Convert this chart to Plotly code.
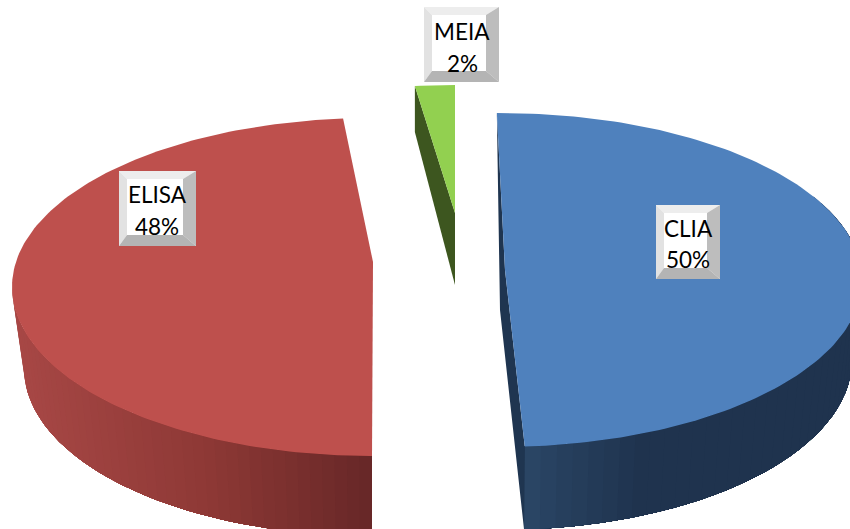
import numpy as np
import plotly.graph_objects as go

# --- data ---
categories = ["CLIA", "ELISA", "MEIA"]
percent_values = [50, 48, 2]

# --- styles and drawing geometry (pixel space of the chart) ---
W, H = 850, 529
top_colors = {"CLIA": "#4F81BD", "ELISA": "#BE504D", "MEIA": "#92D050"}
cut_colors = {"CLIA": "#1F3550", "MEIA": "#3D561F"}
# per-slice perspective: rim ellipse, apex, base ellipse, sweep correction
geom = {
    "CLIA": dict(start=-0.5, k=0.981, c=(500, 280), r=(362, 167), apex=(505, 270),
                 bc=(500, 360), br=(352, 170), apex_b=(500, 310)),
    "ELISA": dict(start=180, k=1.015, c=(372, 287), r=(360, 169), apex=(373, 262),
                  bc=(372, 368), br=(348, 168), apex_b=(373, 340)),
    "MEIA": dict(start=360, k=-0.889, c=(455, 252), r=(360, 167), apex=(455, 213),
                 bc=(455, 313), br=(360, 167), apex_b=(455, 285)),
}
wall_stops = {
    "CLIA": dict(a0=60, xs=[525, 650, 850], cols=[(44, 72, 104), (31, 51, 78), (31, 51, 78)]),
    "ELISA": dict(a0=270, xs=[12, 200, 372], cols=[(168, 72, 70), (142, 57, 54), (102, 39, 39)]),
}
boxes = {
    "CLIA": dict(x=(656, 720), y=(205, 279), tx=(688, 228, 259)),
    "ELISA": dict(x=(119, 196), y=(171, 246), tx=(157, 194, 226)),
    "MEIA": dict(x=(424, 499), y=(7, 82), tx=(462, 31, 63)),
}


def rim(center, radii, a):
    a = np.radians(a)
    return center[0] + radii[0] * np.sin(a), center[1] - radii[1] * np.cos(a)


def poly(xs, ys, color):
    return go.Scatter(x=list(xs), y=list(ys), mode="lines", fill="toself", fillcolor=color,
                      line=dict(color=color, width=0), hoverinfo="skip", showlegend=False)


fig = go.Figure()

for name, value in zip(categories, percent_values):
    g = geom[name]
    a0 = g["start"]
    a1 = a0 + value * 3.6 * g["k"]
    top_a = np.linspace(a0, a1, 160)
    tx, ty = rim(g["c"], g["r"], top_a)

    # outer wall with banded shading: each band is painted over the previous one
    if name in wall_stops:
        ws = wall_stops[name]
        wall_end = a1 if name == "CLIA" else g["start"]
        edges = np.linspace(ws["a0"], wall_end, 46)
        for i, e0 in enumerate(edges[:-1]):
            seg = np.linspace(e0, wall_end, max(3, 46 - i))
            x1, y1 = rim(g["c"], g["r"], seg)
            x2, y2 = rim(g["bc"], g["br"], seg[::-1])
            mid = float(x1[0])
            col = [np.interp(mid, ws["xs"], [c[j] for c in ws["cols"]]) for j in range(3)]
            color = "rgb(%d,%d,%d)" % tuple(col)
            fig.add_trace(poly(np.r_[x1, x2, x1[0]], np.r_[y1, y2, y1[0]], color))

    # cut face
    if name == "CLIA":
        ex, ey = rim(g["c"], g["r"], a1)
        bx, by = rim(g["bc"], g["br"], a1)
        fig.add_trace(poly([tx[0], g["apex"][0], ex, bx, g["apex_b"][0], tx[0]],
                           [ty[0], g["apex"][1], ey, by, g["apex_b"][1], ty[0]],
                           cut_colors[name]))
    if name == "MEIA":
        ex, ey = rim(g["c"], g["r"], a1)
        bx, by = rim(g["bc"], g["br"], a1)
        fig.add_trace(poly([ex, bx, g["apex_b"][0], g["apex"][0], ex],
                           [ey, by - 15, g["apex_b"][1], g["apex"][1], ey],
                           cut_colors[name]))

    # top face
    fig.add_trace(poly(np.r_[tx, g["apex"][0], tx[0]], np.r_[ty, g["apex"][1], ty[0]], top_colors[name]))

shapes = []
annotations = []
for name, value in zip(categories, percent_values):
    b = boxes[name]
    x0, x1 = b["x"]
    y0, y1 = b["y"]
    li, ti, ri, bi = x0 + 8, y0 + 8, x1 - 13, y1 - 11
    shapes.append(dict(type="rect", x0=x0, x1=x1, y0=y0, y1=y1, fillcolor="#FFFFFF", line_width=0, layer="above"))
    for pts, col in [
        ([(x0, y0), (x1, y0), (ri, ti), (li, ti)], "#EDEDED"),
        ([(x0, y0), (li, ti), (li, bi), (x0, y1)], "#E2E2E2"),
        ([(x1, y0), (x1, y1), (ri, bi), (ri, ti)], "#BDBDBD"),
        ([(x0, y1), (li, bi), (ri, bi), (x1, y1)], "#B4B4B4"),
    ]:
        path = "M " + " L ".join(f"{px},{py}" for px, py in pts) + " Z"
        shapes.append(dict(type="path", path=path, fillcolor=col, line_width=0, layer="above"))
    for label, ypos in [(name, b["tx"][1]), (f"{value}%", b["tx"][2])]:
        annotations.append(dict(x=b["tx"][0], y=ypos, text=label, showarrow=False,
                                xanchor="center", yanchor="middle",
                                font=dict(family="Lato", size=22.5, color="#000000")))

fig.update_layout(
    width=W, height=H, margin=dict(l=0, r=0, t=0, b=0), autosize=False,
    paper_bgcolor="white", plot_bgcolor="white", showlegend=False,
    xaxis=dict(range=[0, W], visible=False, fixedrange=True),
    yaxis=dict(range=[H, 0], visible=False, fixedrange=True),
    shapes=shapes, annotations=annotations,
)
fig.write_html("out.html", config=dict(displayModeBar=False),
               post_script="document.body.style.margin='0';document.body.style.overflow='hidden';")
